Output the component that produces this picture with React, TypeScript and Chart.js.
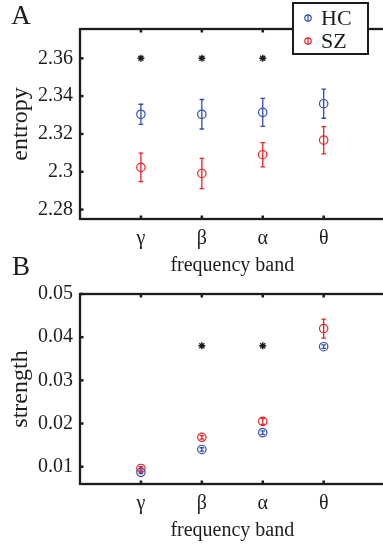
import React, { useEffect, useRef } from 'react';
import { Chart, registerables } from 'chart.js';

Chart.register(...registerables);

// ---------- data ----------
const bands = ['γ', 'β', 'α', 'θ'];
const bandX = [1, 2, 3, 4];

const entropyHC = [2.3304, 2.3304, 2.3314, 2.336];
const entropyHCErr = [0.0053, 0.0078, 0.0074, 0.0077];
const entropySZ = [2.3023, 2.2991, 2.309, 2.3167];
const entropySZErr = [0.0075, 0.008, 0.0064, 0.0072];
const entropySig = [2.36, 2.36, 2.36, null];
const entropyTicks = [2.28, 2.3, 2.32, 2.34, 2.36];

const strengthHC = [0.0087, 0.014, 0.0179, 0.0378];
const strengthHCErr = [0.0003, 0.0004, 0.0004, 0.0004];
const strengthSZ = [0.0096, 0.0168, 0.0205, 0.042];
const strengthSZErr = [0.0004, 0.0004, 0.0007, 0.0022];
const strengthSig = [null, 0.038, 0.038, null];
const strengthTicks = [0.01, 0.02, 0.03, 0.04, 0.05];

const legendLabels = ['HC', 'SZ'];

// ---------- styles ----------
const BLUE = '#2f4fb3';
const RED = '#ee1f26';
const INK = '#1c1c1c';
const FONT = "'Liberation Serif', 'Times New Roman', serif";

const toPoints = (vals: (number | null)[]) =>
  vals.map((v, i) => (v == null ? null : { x: bandX[i], y: v })).filter(Boolean);

const errorBarPlugin = {
  id: 'errorBars',
  beforeDatasetsDraw(chart: any) {
    const { ctx } = chart;
    const xs = chart.scales.x;
    const ys = chart.scales.y;
    chart.data.datasets.forEach((ds: any) => {
      if (!ds.errors) return;
      ctx.save();
      ctx.strokeStyle = ds.borderColor;
      ctx.lineWidth = 1.3;
      ds.data.forEach((p: any, i: number) => {
        const e = ds.errors[i];
        const x = xs.getPixelForValue(p.x);
        const y1 = ys.getPixelForValue(p.y + e);
        const y2 = ys.getPixelForValue(p.y - e);
        ctx.beginPath();
        ctx.moveTo(x, y1);
        ctx.lineTo(x, y2);
        ctx.moveTo(x - 2.3, y1);
        ctx.lineTo(x + 2.3, y1);
        ctx.moveTo(x - 2.3, y2);
        ctx.lineTo(x + 2.3, y2);
        ctx.stroke();
      });
      ctx.restore();
    });
  },
};

const framePlugin = {
  id: 'frame',
  afterDraw(chart: any, _args: any, opts: any) {
    const { ctx, chartArea: a } = chart;
    const xs = chart.scales.x;
    const ys = chart.scales.y;
    ctx.save();
    ctx.strokeStyle = INK;
    ctx.lineWidth = 2.3;
    ctx.strokeRect(a.left, a.top, a.right - a.left, a.bottom - a.top);
    ctx.lineWidth = 2.5;
    ys.ticks.forEach((t: any) => {
      const y = ys.getPixelForValue(t.value);
      ctx.beginPath();
      ctx.moveTo(a.left, y);
      ctx.lineTo(a.left + 3.5, y);
      ctx.stroke();
    });
    xs.ticks.forEach((t: any) => {
      const x = xs.getPixelForValue(t.value);
      ctx.beginPath();
      ctx.moveTo(x, a.bottom);
      ctx.lineTo(x, a.bottom - 3.5);
      ctx.moveTo(x, a.top);
      ctx.lineTo(x, a.top + 3.5);
      ctx.stroke();
    });
    // panel letter
    ctx.fillStyle = INK;
    ctx.font = `27px ${FONT}`;
    ctx.textAlign = 'center';
    ctx.textBaseline = 'middle';
    ctx.fillText(opts.letter, 21, opts.letterY);
    // legend
    if (opts.legend) {
      const L = 293, T = 3, W = 75, H = 51;
      ctx.fillStyle = '#fff';
      ctx.fillRect(L, T, W, H);
      ctx.lineWidth = 2;
      ctx.strokeStyle = INK;
      ctx.strokeRect(L, T, W, H);
      const rows = [
        { label: legendLabels[0], color: BLUE, y: 18 },
        { label: legendLabels[1], color: RED, y: 41 },
      ];
      rows.forEach((r) => {
        ctx.strokeStyle = r.color;
        ctx.lineWidth = 1.2;
        ctx.beginPath();
        ctx.arc(308, r.y, 3.2, 0, Math.PI * 2);
        ctx.moveTo(308, r.y - 4);
        ctx.lineTo(308, r.y + 4);
        ctx.stroke();
        ctx.fillStyle = INK;
        ctx.font = `22px ${FONT}`;
        ctx.textAlign = 'left';
        ctx.textBaseline = 'middle';
        ctx.fillText(r.label, 321, r.y + 1);
      });
    }
    ctx.restore();
  },
};

function makeConfig(p: any) {
  return {
    type: 'scatter',
    data: {
      datasets: [
        {
          data: toPoints(p.hc),
          errors: p.hcErr,
          borderColor: BLUE,
          backgroundColor: 'rgba(0,0,0,0)',
          pointStyle: 'circle',
          pointRadius: 4.2,
          borderWidth: 1.2,
        },
        {
          data: toPoints(p.sz),
          errors: p.szErr,
          borderColor: RED,
          backgroundColor: 'rgba(0,0,0,0)',
          pointStyle: 'circle',
          pointRadius: 4.2,
          borderWidth: 1.2,
        },
        {
          data: toPoints(p.sig),
          borderColor: INK,
          backgroundColor: INK,
          pointStyle: 'star',
          pointRadius: 3.5,
          borderWidth: 1.4,
        },
      ],
    },
    options: {
      animation: false,
      responsive: false,
      devicePixelRatio: 1,
      events: [],
      layout: { padding: { top: p.padTop, right: 3, bottom: 0, left: 0 } },
      plugins: {
        legend: { display: false },
        tooltip: { enabled: false },
        frame: { letter: p.letter, letterY: p.letterY, legend: p.legend },
      },
      scales: {
        x: {
          type: 'linear',
          min: 0,
          max: 5,
          afterBuildTicks: (s: any) => {
            s.ticks = bandX.map((v) => ({ value: v }));
          },
          afterFit: (s: any) => {
            s.height = 63;
          },
          grid: { display: false, drawTicks: false },
          border: { display: false },
          ticks: {
            padding: 8,
            autoSkip: false,
            maxRotation: 0,
            color: INK,
            font: { family: FONT, size: 20 },
            callback: (v: any) => bands[bandX.indexOf(Number(v))] ?? '',
          },
          title: {
            display: true,
            text: 'frequency band',
            color: INK,
            font: { family: FONT, size: 20 },
            padding: { top: 0, bottom: 4 },
          },
        },
        y: {
          type: 'linear',
          min: p.min,
          max: p.max,
          afterBuildTicks: (s: any) => {
            s.ticks = p.ticks.map((v: number) => ({ value: v }));
          },
          afterFit: (s: any) => {
            s.width = 80;
          },
          grid: { display: false, drawTicks: false },
          border: { display: false },
          ticks: {
            padding: 7,
            color: INK,
            font: { family: FONT, size: 20 },
            callback: (v: any) => String(Number(Number(v).toFixed(4))),
          },
          title: {
            display: true,
            text: p.ylabel,
            color: INK,
            font: { family: FONT, size: 24 },
            padding: { top: 6, bottom: 0 },
          },
        },
      },
    },
    plugins: [errorBarPlugin, framePlugin],
  };
}

export default function App() {
  const refA = useRef<HTMLCanvasElement>(null);
  const refB = useRef<HTMLCanvasElement>(null);
  useEffect(() => {
    const a = new Chart(
      refA.current as any,
      makeConfig({
        hc: entropyHC,
        hcErr: entropyHCErr,
        sz: entropySZ,
        szErr: entropySZErr,
        sig: entropySig,
        ticks: entropyTicks,
        min: 2.275,
        max: 2.3755,
        ylabel: 'entropy',
        padTop: 29,
        letter: 'A',
        letterY: 17,
        legend: true,
      }) as any
    );
    const b = new Chart(
      refB.current as any,
      makeConfig({
        hc: strengthHC,
        hcErr: strengthHCErr,
        sz: strengthSZ,
        szErr: strengthSZErr,
        sig: strengthSig,
        ticks: strengthTicks,
        min: 0.006,
        max: 0.05,
        ylabel: 'strength',
        padTop: 44,
        letter: 'B',
        letterY: 18,
        legend: false,
      }) as any
    );
    return () => {
      a.destroy();
      b.destroy();
    };
  }, []);
  return (
    <div
      style={{
        position: 'fixed',
        left: 0,
        top: 0,
        width: 383,
        height: 547,
        overflow: 'hidden',
        background: '#fff',
      }}
    >
      <canvas
        ref={refA}
        width={390}
        height={282}
        style={{ position: 'absolute', left: 0, top: 0, width: 390, height: 282 }}
      />
      <canvas
        ref={refB}
        width={390}
        height={297}
        style={{ position: 'absolute', left: 0, top: 250, width: 390, height: 297 }}
      />
    </div>
  );
}
